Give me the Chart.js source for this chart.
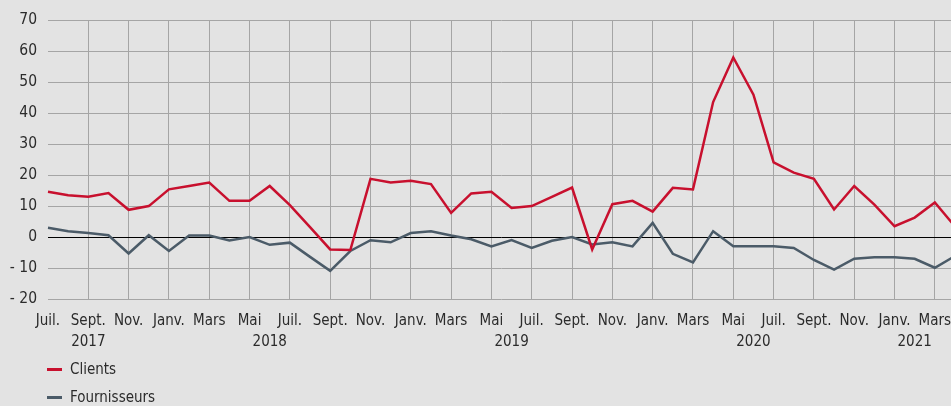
<!DOCTYPE html>
<html lang="fr">
<head>
<meta charset="utf-8">
<title>Clients et fournisseurs</title>
<script src="https://cdn.jsdelivr.net/npm/chart.js@4/dist/chart.umd.min.js"></script>
<style>
  html, body { margin: 0; padding: 0; background: #e3e3e3; overflow: hidden; }
  body { width: 951px; height: 406px; position: relative; font-family: "Liberation Sans Narrow", "DejaVu Sans Condensed", sans-serif; }
  #chart { position: absolute; left: 0; top: 0; }
  #legend { position: absolute; left: 47px; top: 355px; font-size: 15px; color: #2b2b2b; }
  #legend div { height: 28px; line-height: 24px; display: flex; align-items: center; }
  #legend span.mark { display: inline-block; width: 15px; height: 3px; margin-right: 8px; }
</style>
</head>
<body>
<canvas id="chart" width="967" height="360"></canvas>
<div id="legend"></div>
<script>
// mois de juillet 2017 à avril 2021
const categories = [
  '2017-07', '2017-08', '2017-09', '2017-10', '2017-11', '2017-12',
  '2018-01', '2018-02', '2018-03', '2018-04', '2018-05', '2018-06',
  '2018-07', '2018-08', '2018-09', '2018-10', '2018-11', '2018-12',
  '2019-01', '2019-02', '2019-03', '2019-04', '2019-05', '2019-06',
  '2019-07', '2019-08', '2019-09', '2019-10', '2019-11', '2019-12',
  '2020-01', '2020-02', '2020-03', '2020-04', '2020-05', '2020-06',
  '2020-07', '2020-08', '2020-09', '2020-10', '2020-11', '2020-12',
  '2021-01', '2021-02', '2021-03', '2021-04'
];

const clients = [
  14.6, 13.5, 13.0, 14.2, 8.8, 10.0,
  15.4, 16.5, 17.6, 11.7, 11.7, 16.5, 10.3, 3.2, -4.0, -4.2, 18.8, 17.6,
  18.2, 17.1, 7.8, 14.1, 14.6, 9.4, 10.0, 13.0, 16.0, -4.0, 10.6, 11.7,
  8.2, 15.9, 15.4, 43.6, 58.0, 46.0, 24.1, 20.8, 18.8, 8.9, 16.5, 10.5,
  3.5, 6.3, 11.2, 3.4
];

const fournisseurs = [
  3.0, 1.9, 1.3, 0.6, -5.3, 0.6,
  -4.5, 0.5, 0.5, -1.1, 0.0, -2.5, -1.8, -6.4, -10.9, -4.5, -1.0, -1.7,
  1.3, 1.9, 0.5, -0.7, -3.0, -1.0, -3.5, -1.2, 0.0, -2.4, -1.7, -3.0,
  4.6, -5.4, -8.2, 1.9, -3.0, -3.0, -3.0, -3.5, -7.4, -10.5, -7.0, -6.5,
  -6.5, -7.0, -9.9, -6.1
];

// libellés de l'axe horizontal (un mois sur deux) et années
const monthNames = { '01': 'Janv.', '03': 'Mars', '05': 'Mai', '07': 'Juil.', '09': 'Sept.', '11': 'Nov.' };
const yearTicks = { '2017-09': '2017', '2018-06': '2018', '2019-06': '2019', '2020-06': '2020', '2021-02': '2021' };

const yMin = -20, yMax = 70, yStep = 10;

const FONT = '"Liberation Sans Narrow", "DejaVu Sans Condensed", sans-serif';
const RED = '#c8102e';
const SLATE = '#4b5b68';
const GRID = '#a5a5a5';

const chart = new Chart(document.getElementById('chart'), {
  type: 'line',
  data: {
    labels: categories,
    datasets: [
      { label: 'Clients', data: clients, borderColor: RED, backgroundColor: RED, borderWidth: 2.5, pointRadius: 0, tension: 0 },
      { label: 'Fournisseurs', data: fournisseurs, borderColor: SLATE, backgroundColor: SLATE, borderWidth: 2.5, pointRadius: 0, tension: 0 }
    ]
  },
  options: {
    responsive: false,
    animation: false,
    layout: { padding: { top: 20, right: 5, left: 0, bottom: 0 } },
    plugins: { legend: { display: false }, tooltip: { enabled: false } },
    scales: {
      x: {
        offset: false,
        border: { display: false },
        grid: {
          drawTicks: false,
          color: ctx => {
            const m = categories[ctx.index] ? categories[ctx.index].slice(5) : '';
            return (ctx.index > 0 && monthNames[m]) ? GRID : 'rgba(0,0,0,0)';
          }
        },
        ticks: {
          autoSkip: false,
          maxRotation: 0,
          minRotation: 0,
          padding: 12,
          color: '#2b2b2b',
          font: { family: FONT, size: 15, lineHeight: 1.4 },
          callback: function (value, index) {
            const c = categories[index];
            return [monthNames[c.slice(5)] || '', yearTicks[c] || ''];
          }
        },
        afterFit: scale => { scale.height = 61; }
      },
      y: {
        min: yMin,
        max: yMax,
        border: { display: false },
        grid: {
          drawTicks: false,
          color: ctx => ctx.tick.value === 0 ? '#000' : GRID
        },
        ticks: {
          stepSize: yStep,
          padding: 11,
          color: '#2b2b2b',
          font: { family: FONT, size: 15.5 },
          callback: v => v < 0 ? '- ' + Math.abs(v) : String(v)
        },
        afterFit: scale => { scale.width = 48; }
      }
    }
  }
});

// légende verticale sous le graphique
const legend = document.getElementById('legend');
chart.data.datasets.forEach(ds => {
  const row = document.createElement('div');
  const mark = document.createElement('span');
  mark.className = 'mark';
  mark.style.background = ds.borderColor;
  row.appendChild(mark);
  row.appendChild(document.createTextNode(ds.label));
  legend.appendChild(row);
});
</script>
</body>
</html>
